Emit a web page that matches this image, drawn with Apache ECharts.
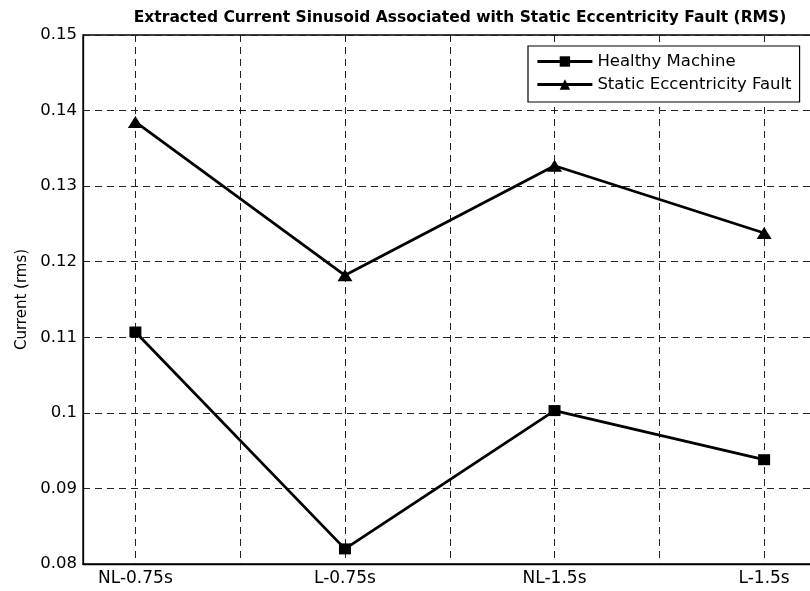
<!DOCTYPE html>
<html>
<head>
<meta charset="utf-8">
<script src="https://cdn.jsdelivr.net/npm/echarts@6/dist/echarts.min.js"></script>
<style>
html,body{margin:0;padding:0;background:#fff;}
#chart{width:810px;height:591px;}
</style>
</head>
<body>
<div id="chart"></div>
<script>
const titleText = 'Extracted Current Sinusoid Associated with Static Eccentricity Fault (RMS)';
const yAxisTitle = 'Current (rms)';
const categories = ['NL-0.75s', 'L-0.75s', 'NL-1.5s', 'L-1.5s'];
const healthyValues = [0.1107, 0.0820, 0.1003, 0.0938];
const faultValues = [0.1385, 0.1182, 0.1327, 0.1238];
const seriesNames = ['Healthy Machine', 'Static Eccentricity Fault'];

// categories sit on every second grid line (x = 1, 3, 5, 7)
const catX = categories.map((c, i) => 2 * i + 1);
const toPairs = vals => vals.map((v, i) => [catX[i], v]);
const labelFor = v => {
  const i = catX.indexOf(Math.round(v * 1000) / 1000);
  return i >= 0 ? categories[i] : '';
};

const FONT = 'DejaVu Sans';
const chart = echarts.init(document.getElementById('chart'), null, {renderer: 'canvas'});
chart.setOption({
  backgroundColor: '#fff',
  animation: false,
  title: {
    text: titleText,
    left: 455,
    textAlign: 'center',
    top: 5,
    textStyle: {fontFamily: FONT, fontWeight: 'bold', fontSize: 15.5, color: '#000'}
  },
  grid: {
    left: 83, top: 35, width: 733.5, height: 529,
    containLabel: false, outerBoundsMode: 'none',
    show: true, borderColor: '#000', borderWidth: 1.3, backgroundColor: 'transparent'
  },
  legend: {
    orient: 'vertical',
    left: 528, top: 46,
    padding: [7, 8, 9, 8],
    itemGap: 6,
    itemWidth: 55, itemHeight: 13,
    backgroundColor: '#fff',
    borderColor: '#000', borderWidth: 1.2,
    lineStyle: {width: 2.8, color: '#000'},
    textStyle: {fontFamily: FONT, fontSize: 16.5, color: '#000', lineHeight: 17},
    data: seriesNames
  },
  xAxis: {
    type: 'value', min: 0.5, max: 7.5, minInterval: 1, maxInterval: 1, splitNumber: 7,
    axisLine: {show: true, onZero: false, lineStyle: {color: '#000', width: 1.3}},
    axisTick: {show: false},
    axisLabel: {
      margin: 6, fontFamily: FONT, fontSize: 17, color: '#000',
      formatter: v => labelFor(v), showMinLabel: true, showMaxLabel: true
    },
    splitLine: {show: true, lineStyle: {color: '#222', width: 1, type: [7, 5]}}
  },
  yAxis: {
    type: 'value', min: 0.08, max: 0.15, interval: 0.01,
    name: yAxisTitle, nameLocation: 'middle', nameGap: 53, nameRotate: 90,
    nameTextStyle: {fontFamily: FONT, fontSize: 15, color: '#000'},
    axisLine: {show: true, lineStyle: {color: '#000', width: 1.3}},
    axisTick: {show: false},
    axisLabel: {margin: 6, fontFamily: FONT, fontSize: 16.5, color: '#000'},
    splitLine: {show: true, lineStyle: {color: '#222', width: 1, type: [7, 5]}}
  },
  series: [
    {
      name: seriesNames[0], type: 'line', data: toPairs(healthyValues),
      symbol: 'rect', symbolSize: [12, 11], showAllSymbol: true,
      lineStyle: {color: '#000', width: 2.8},
      itemStyle: {color: '#000'},
      z: 5
    },
    {
      name: seriesNames[1], type: 'line', data: toPairs(faultValues),
      symbol: 'triangle', symbolSize: [15, 12], showAllSymbol: true,
      lineStyle: {color: '#000', width: 2.8},
      itemStyle: {color: '#000'},
      z: 5
    }
  ]
});
</script>
</body>
</html>
